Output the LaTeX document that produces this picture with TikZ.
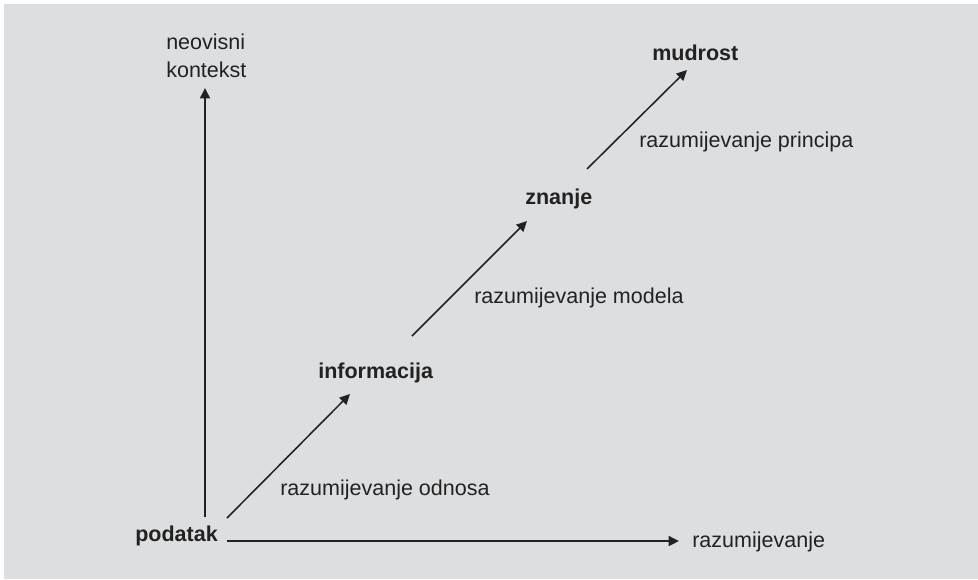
\documentclass[tikz,border=0pt]{standalone}
\usepackage{fontspec}
\setmainfont{Liberation Sans}
\usetikzlibrary{arrows.meta}

\begin{document}
\begin{tikzpicture}[x=0.025cm,y=-0.025cm,
  lbl/.style={anchor=base west,inner sep=0pt,text=ink,font=\fontsize{15.3}{19.4}\selectfont},
  stage/.style={lbl,font=\fontsize{15.3}{19.4}\selectfont\bfseries},
  arr/.style={draw=ink,line width=1.1pt,-{Triangle[length=0.26cm,width=0.25cm]}}]
\definecolor{ink}{HTML}{222222}
\definecolor{paper}{HTML}{DDDEE0}
\useasboundingbox (0,0) rectangle (978,579);
\fill[paper] (4,4) rectangle (978,579);
% levels
\node[stage] (podatak) at (135,541) {podatak};
\node[stage] (informacija) at (318,378) {informacija};
\node[stage] (znanje) at (525,204) {znanje};
\node[stage] (mudrost) at (652,60) {mudrost};
% axes
\node[lbl,align=left] (kontekst) at (166,77) {neovisni\\kontekst};
\node[lbl] (razumijevanje) at (692,547) {razumijevanje};
% steps
\node[lbl] (odnos) at (280,495) {razumijevanje odnosa};
\node[lbl] (model) at (474,303) {razumijevanje modela};
\node[lbl] (princip) at (639,147) {razumijevanje principa};
\coordinate (o) at (205,517);
\coordinate (ytop) at (205,88);
\coordinate (x0) at (227,541);
\coordinate (xend) at (679,541);
\foreach \nm/\ax/\ay/\bx/\by in {a/227/518/350/394, b/412/336/527/221, c/587/169/687/70}
  {\coordinate (\nm0) at (\ax,\ay); \coordinate (\nm1) at (\bx,\by);}
\draw[arr] (o) -- (ytop);
\draw[arr] (x0) -- (xend);
\foreach \nm in {a,b,c}
  {\draw[arr] (\nm0) -- (\nm1);}
\end{tikzpicture}
\end{document}
